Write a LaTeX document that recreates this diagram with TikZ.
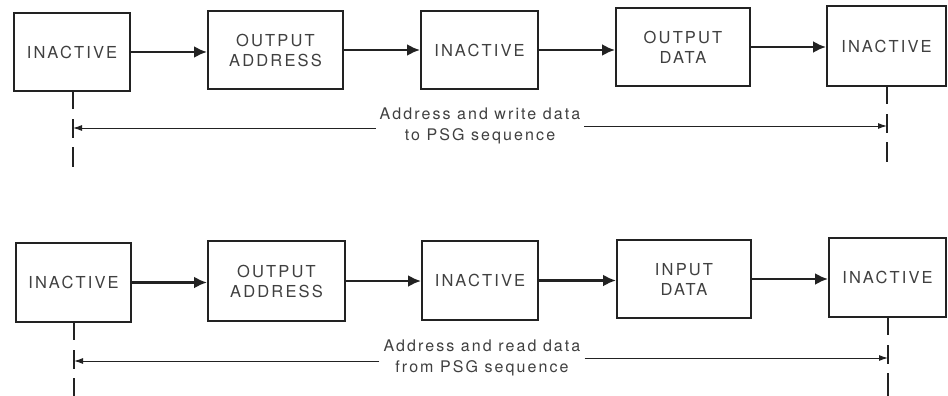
\documentclass[tikz,border=0pt]{standalone}
\usepackage{fontspec}
\setmainfont{TeX Gyre Heros}
\newfontfamily\boxfont[LetterSpace=13]{TeX Gyre Heros}
\newfontfamily\labfont[LetterSpace=13]{TeX Gyre Heros}
\usetikzlibrary{arrows.meta}
\definecolor{ink}{HTML}{222222}
\definecolor{txt}{HTML}{404040}
\begin{document}
\begin{tikzpicture}[x=1pt,y=-1pt,
  state/.style={draw=ink,line width=2pt,fill=white,inner sep=0pt,align=center,
    text=txt,font=\boxfont\fontsize{16.5}{20}\selectfont},
  flow/.style={draw=ink,line width=2.5pt,-{Latex[length=13pt,width=12pt]}},
  dimline/.style={draw=ink,line width=1pt,-{Latex[length=9pt,width=6pt]}},
  marker/.style={draw=ink,line width=2pt,dash pattern=on 17pt off 10pt on 19pt off 9pt on 40pt},
  lab/.style={align=center,text=txt,inner sep=4pt,font=\labfont\fontsize{16}{21}\selectfont}]
\useasboundingbox[fill=white] (0,0) rectangle (948,396);
% top row
\node[state,minimum width=116pt,minimum height=78pt] (a1) at (72,52) {INACTIVE};
\node[state,minimum width=135pt,minimum height=78pt] (a2) at (275.5,50) {OUTPUT\\ADDRESS};
\node[state,minimum width=117pt,minimum height=78pt] (a3) at (479.5,50) {INACTIVE};
\node[state,minimum width=134pt,minimum height=78pt] (a4) at (683,47) {OUTPUT\\DATA};
\node[state,minimum width=119pt,minimum height=80pt] (a5) at (886.5,46) {INACTIVE};
\draw[flow] (a1.east) -- (a1.east -| a2.west);
\draw[flow] (a2.east) -- (a2.east -| a3.west);
\draw[flow] (a3.east) -- (a3.east -| a4.west);
\draw[flow] (a4.east) -- (a4.east -| a5.west);
\coordinate (ta) at (73,167);
\coordinate (tb) at (887,162);
\draw[marker] (a1.south -| ta) -- (ta);
\draw[marker] (a5.south -| tb) -- (tb);
\node[lab] (l1) at (480,126) {Address and write data\\to PSG sequence};
\draw[dimline] (l1.west |- 0,128) -- (73,128);
\draw[dimline] (l1.east |- 0,126) -- (887,126);
% bottom row
\node[state,minimum width=115pt,minimum height=79pt] (b1) at (73.5,282.5) {INACTIVE};
\node[state,minimum width=137pt,minimum height=80pt] (b2) at (276.5,281) {OUTPUT\\ADDRESS};
\node[state,minimum width=116pt,minimum height=79pt] (b3) at (480,280.5) {INACTIVE};
\node[state,minimum width=134pt,minimum height=78pt] (b4) at (684,279) {INPUT\\DATA};
\node[state,minimum width=117pt,minimum height=79pt] (b5) at (887.5,277.5) {INACTIVE};
\draw[flow] (b1.east) -- (b1.east -| b2.west);
\draw[flow] (b2.east) -- (b2.east -| b3.west);
\draw[flow] (b3.east) -- (b3.east -| b4.west);
\draw[flow] (b4.east) -- (b4.east -| b5.west);
\coordinate (ba) at (74,396);
\coordinate (bb) at (888,396);
\draw[marker] (b1.south -| ba) -- (ba);
\draw[marker] (b5.south -| bb) -- (bb);
\node[lab] (l2) at (482,358) {Address and read data\\from PSG sequence};
\draw[dimline] (l2.west |- 0,361) -- (74,361);
\draw[dimline] (l2.east |- 0,358) -- (888,358);
\end{tikzpicture}
\end{document}
